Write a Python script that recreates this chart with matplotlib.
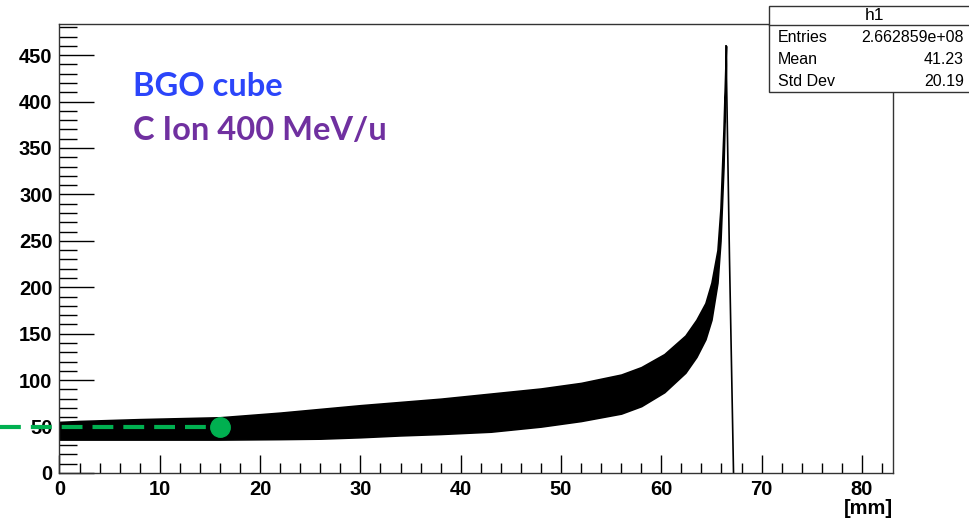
import numpy as np
import matplotlib
matplotlib.use("Agg")
import matplotlib.pyplot as plt
from matplotlib.ticker import MultipleLocator

# depth [mm] and envelope of the per-bin counts (lower / upper edge of the band)
depth = [0, 2, 8, 16, 22, 26, 30, 34, 38, 43, 48, 52, 56, 58, 60.3,
         62.4, 63.5, 64.4, 65, 65.6, 65.9, 66.2, 66.45]
band_low = [36, 36, 36, 36, 36.5, 37, 38.5, 40.5, 42, 44.5, 50, 56, 64, 72, 87,
            108, 125, 144, 165, 205, 250, 330, 440]
band_high = [55, 56, 58, 60, 65, 69, 73, 76.5, 80, 85.5, 91, 97, 106, 114, 128,
             148, 165, 183, 205, 240, 285, 370, 460]

# distal falloff after the Bragg peak
fall_depth = [66.45, 66.8, 67.2]
fall_counts = [460, 230, 0]

# marker on the plateau
plateau_x = 16
plateau_y = 50

stats_rows = [("Entries", "2.662859e+08"), ("Mean", "41.23"), ("Std Dev", "20.19")]

W, H = 970, 522
fig = plt.figure(figsize=(W / 100, H / 100), dpi=100)
ax = fig.add_axes([59.5 / W, 1 - 473 / H, (893 - 59.5) / W, (473 - 24) / H])

ax.fill_between(depth, band_low, band_high, color="black", lw=1.2, edgecolor="black")
ax.plot(fall_depth, fall_counts, color="black", lw=1.2)

ax.set_xlim(0, 83.1)
ax.set_ylim(0, 483.5)

ax.xaxis.set_major_locator(MultipleLocator(10))
ax.xaxis.set_minor_locator(MultipleLocator(2))
ax.yaxis.set_major_locator(MultipleLocator(50))
ax.yaxis.set_minor_locator(MultipleLocator(10))
ax.tick_params(axis="x", which="major", direction="in", length=13, width=1, pad=5)
ax.tick_params(axis="x", which="minor", direction="in", length=7, width=1)
ax.tick_params(axis="y", which="major", direction="in", length=25, width=1, pad=5)
ax.tick_params(axis="y", which="minor", direction="in", length=13, width=1)
for lab in ax.get_xticklabels() + ax.get_yticklabels():
    lab.set_fontfamily("Liberation Sans")
    lab.set_fontweight("bold")
    lab.set_fontsize(14.5)
for sp in ax.spines.values():
    sp.set_color("#333333")
    sp.set_linewidth(1)

fig.text(893 / W, 1 - 509 / H, "[mm]", ha="right", va="center",
         family="Liberation Sans", weight="bold", fontsize=14.5)

# plateau reference line and marker
green = "#00B050"
ax.plot([-5.93, plateau_x], [plateau_y, plateau_y], color=green, lw=3,
        dashes=(5, 2.4), clip_on=False)
ax.plot([plateau_x], [plateau_y], "o", color=green, ms=14, clip_on=False)

fig.text(133 / W, 1 - 87 / H, "BGO cube", color="#2B45FA", family="Lato",
         weight="bold", fontsize=23.5, va="center", ha="left")
fig.text(133 / W, 1 - 130 / H, "C Ion 400 MeV/u", color="#7030A0", family="Lato",
         weight="bold", fontsize=23.5, va="center", ha="left")

# stats box
bx0, bx1, by0, by1, bsep = 769, 980, 6, 92, 25
fig.patches.append(plt.Rectangle((bx0 / W, 1 - by1 / H), (bx1 - bx0) / W,
                                 (by1 - by0) / H, transform=fig.transFigure,
                                 facecolor="white", edgecolor="#333333", lw=1))
fig.add_artist(plt.Line2D([bx0 / W, bx1 / W], [1 - bsep / H, 1 - bsep / H],
                          transform=fig.transFigure, color="#333333", lw=1))
fig.text(875 / W, 1 - 16 / H, "h1", ha="center", va="center",
         family="Liberation Sans", fontsize=12.5)
for i, (name, val) in enumerate(stats_rows):
    yy = 1 - (38 + 22 * i) / H
    fig.text(778 / W, yy, name, ha="left", va="center", family="Liberation Sans", fontsize=11.5)
    fig.text(964 / W, yy, val, ha="right", va="center", family="Liberation Sans", fontsize=11.5)

fig.savefig("out.png", dpi=100)
